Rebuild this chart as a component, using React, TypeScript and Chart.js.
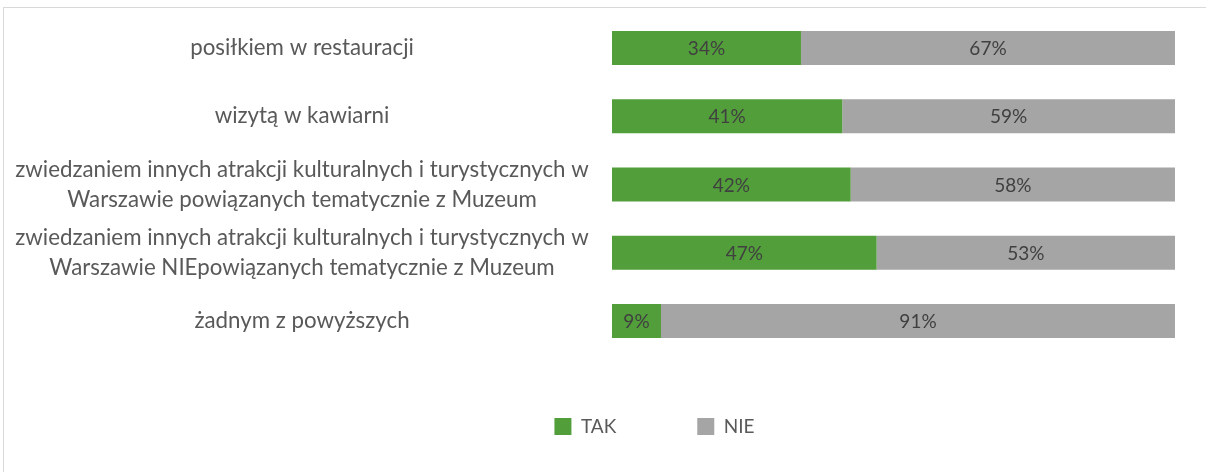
import React, { useEffect, useRef } from "react";
import { Chart, registerables } from "chart.js";

Chart.register(...registerables);

const categories: (string | string[])[] = [
  "posiłkiem w restauracji",
  "wizytą w kawiarni",
  [
    "zwiedzaniem innych atrakcji kulturalnych i turystycznych w",
    "Warszawie powiązanych tematycznie z Muzeum",
  ],
  [
    "zwiedzaniem innych atrakcji kulturalnych i turystycznych w",
    "Warszawie NIEpowiązanych tematycznie z Muzeum",
  ],
  "żadnym z powyższych",
];

const seriesNames = ["TAK", "NIE"];
const takValues = [33.6, 40.9, 42.4, 47.0, 8.7];
const nieValues = [66.5, 59.1, 57.6, 53.0, 91.3];
const seriesColors = ["#529E3A", "#A5A5A5"];

const FONT_FAMILY = "Lato";
const FONT_SIZE = 19;
const AXIS_FONT_SIZE = 22.3;
const LABEL_CENTER = 302; // page x of label centre
const AREA_LEFT = 612; // page x of plot left
const CANVAS_LEFT = 4;
const CANVAS_W = 1301;
const CANVAS_H = 438;
const RIGHT_GUTTER = 130;

const barLabels = {
  id: "barLabels",
  afterDatasetsDraw(chart: any) {
    const ctx = chart.ctx;
    ctx.save();
    ctx.font = `${FONT_SIZE}px ${FONT_FAMILY}`;
    ctx.fillStyle = "#404040";
    ctx.textAlign = "center";
    ctx.textBaseline = "middle";
    chart.data.datasets.forEach((ds: any, di: number) => {
      const meta = chart.getDatasetMeta(di);
      meta.data.forEach((el: any, i: number) => {
        const { x, y, base } = el.getProps(["x", "y", "base"], true);
        ctx.fillText(Math.round(ds.rawValues[i]) + "%", (x + base) / 2, y + 1);
      });
    });
    ctx.restore();
  },
};

export default function App() {
  const ref = useRef<HTMLCanvasElement>(null);

  useEffect(() => {
    if (!ref.current) return;
    const m = document.createElement("canvas").getContext("2d")!;
    m.font = `${AXIS_FONT_SIZE}px ${FONT_FAMILY}`;
    let widest = 0;
    categories.forEach((c) =>
      (Array.isArray(c) ? c : [c]).forEach((s) => {
        widest = Math.max(widest, m.measureText(s).width);
      })
    );
    const axisWidth = AREA_LEFT - CANVAS_LEFT;
    const tickPad = Math.max(0, AREA_LEFT - LABEL_CENTER - widest / 2);

    const raws = [takValues, nieValues];
    const datasets = raws.map((vals, si) => ({
      label: seriesNames[si],
      data: vals.map((v, i) => (v / (takValues[i] + nieValues[i])) * 100),
      rawValues: vals,
      backgroundColor: seriesColors[si],
      borderWidth: 0,
      barPercentage: 1,
      categoryPercentage: 0.5,
      clip: false as any,
    }));

    const chart = new Chart(ref.current, {
      type: "bar",
      data: { labels: categories as any, datasets: datasets as any },
      plugins: [barLabels],
      options: {
        indexAxis: "y",
        responsive: false,
        animation: false,
        layout: {
          padding: { top: 40, right: 0, bottom: 0, left: 0 },
        },
        scales: {
          x: {
            type: "linear",
            min: 0,
            max: 100,
            stacked: true,
            display: true,
            ticks: { display: false },
            grid: { display: false, drawTicks: false },
            border: { display: false },
            afterFit: (s: any) => {
              s.height = 15;
            },
          },
          y: {
            type: "category",
            stacked: true,
            offset: false,
            grid: { display: false, drawTicks: false },
            border: { display: false },
            ticks: {
              autoSkip: false,
              crossAlign: "center",
              padding: tickPad,
              color: "#595959",
              font: {
                family: FONT_FAMILY,
                size: AXIS_FONT_SIZE,
                lineHeight: 1.35,
              },
            },
            afterFit: (s: any) => {
              s.width = axisWidth;
            },
          },
          gutter: {
            type: "category",
            position: "right",
            display: true,
            offset: false,
            grid: { display: false, drawTicks: false },
            border: { display: false },
            ticks: { display: false },
            afterFit: (s: any) => {
              s.width = RIGHT_GUTTER;
            },
          } as any,
        },
        plugins: {
          legend: {
            position: "bottom",
            align: "center",
            labels: {
              boxWidth: 17,
              boxHeight: 17,
              padding: 81,
              color: "#595959",
              font: { family: FONT_FAMILY, size: FONT_SIZE },
            },
          },
          tooltip: { enabled: false },
        },
      },
    });
    return () => chart.destroy();
  }, []);

  return (
    <div
      style={{
        position: "fixed",
        left: 0,
        top: 0,
        width: "100vw",
        height: "100vh",
        overflow: "hidden",
        background: "#ffffff",
      }}
    >
      <div
        style={{
          position: "absolute",
          left: 3,
          top: 7,
          width: 1320,
          height: 520,
          borderLeft: "1px solid #d9d9d9",
          borderTop: "1px solid #d9d9d9",
        }}
      >
        <canvas
          ref={ref}
          width={CANVAS_W}
          height={CANVAS_H}
          style={{ display: "block", width: CANVAS_W, height: CANVAS_H }}
        />
      </div>
    </div>
  );
}
